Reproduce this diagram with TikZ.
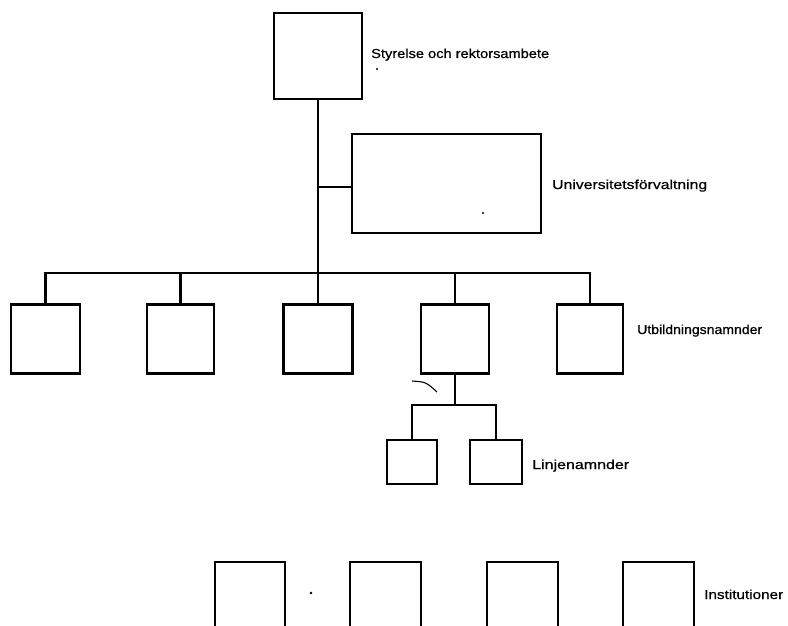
\documentclass[tikz,border=0pt]{standalone}
\usepackage{fontspec}
\newfontfamily\labfont[FakeBold=0.6]{Liberation Sans}
\usepackage{graphicx}
\newcommand{\fitlbl}[2]{\resizebox{#1pt}{\height}{#2}}
\begin{document}
\begin{tikzpicture}[x=1pt,y=-1pt,
  box/.style={draw=black, line width=2.4pt, inner sep=0pt, outer sep=0pt},
  conn/.style={draw=black, line width=2.4pt},
  lab/.style={anchor=base west, inner sep=0pt, font=\labfont\fontsize{13}{15}\selectfont},
  speck/.style={fill=black}]
\clip (0,0) rectangle (788,626);
% top level
\node[box, minimum width=88pt, minimum height=86pt] (top) at (318,56) {};
\node[box, minimum width=189pt, minimum height=99pt] (univ) at (446.5,183.5) {};
% second level
\node[box, minimum width=69pt, minimum height=69pt] (b1) at (45.5,339) {};
\node[box, minimum width=67pt, minimum height=69pt] (b2) at (180.5,339) {};
\node[box, minimum width=69pt, minimum height=69pt] (b3) at (318,339) {};
\node[box, minimum width=68pt, minimum height=69pt] (b4) at (455,339) {};
\node[box, minimum width=66pt, minimum height=69pt] (b5) at (590,339) {};
% linjenamnder
\node[box, minimum width=50pt, minimum height=44pt] (l1) at (412,462) {};
\node[box, minimum width=52pt, minimum height=44pt] (l2) at (496,462) {};
% institutioner (cut off at the bottom)
\node[box, minimum width=70pt, minimum height=100pt] (i1) at (250,612) {};
\node[box, minimum width=71pt, minimum height=100pt] (i2) at (385.5,612) {};
\node[box, minimum width=71pt, minimum height=100pt] (i3) at (522.5,612) {};
\node[box, minimum width=71pt, minimum height=100pt] (i4) at (658.5,612) {};
% connectors
\coordinate (tj) at (318,187);
\coordinate (bus) at (0,273);
\coordinate (sbus) at (0,405);
\draw[conn] (top.south) -- (b3.north);
\draw[conn] (tj) -- (tj -| univ.west);
\draw[conn] (b1.north) |- (b5.north |- bus) -- (b5.north);
\draw[conn] (b2.north) -- (b2.north |- bus);
\draw[conn] (b4.north) -- (b4.north |- bus);
\draw[conn] (b4.south) -- (b4.south |- sbus);
\draw[conn] (l1.north) |- (l2.north |- sbus) -- (l2.north);
% labels
\node[lab] (tStyr) at (371,58) {\fitlbl{178}{Styrelse och rektorsambete}};
\node[lab] (tUniv) at (552,189) {\fitlbl{155}{Universitetsförvaltning}};
\node[lab] (tUtb) at (637,334) {\fitlbl{125}{Utbildningsnamnder}};
\node[lab] (tLinj) at (532,469) {\fitlbl{97}{Linjenamnder}};
\node[lab] (tInst) at (704,599) {\fitlbl{79}{Institutioner}};
% specks of the scan
\fill[speck] (377,69) circle (1.1pt);
\fill[speck] (483,213) circle (1.1pt);
\fill[speck] (311,593) circle (1.3pt);
\draw[line width=1.1pt] (412,381) .. controls (426,382) .. (437,392);
\end{tikzpicture}
\end{document}
